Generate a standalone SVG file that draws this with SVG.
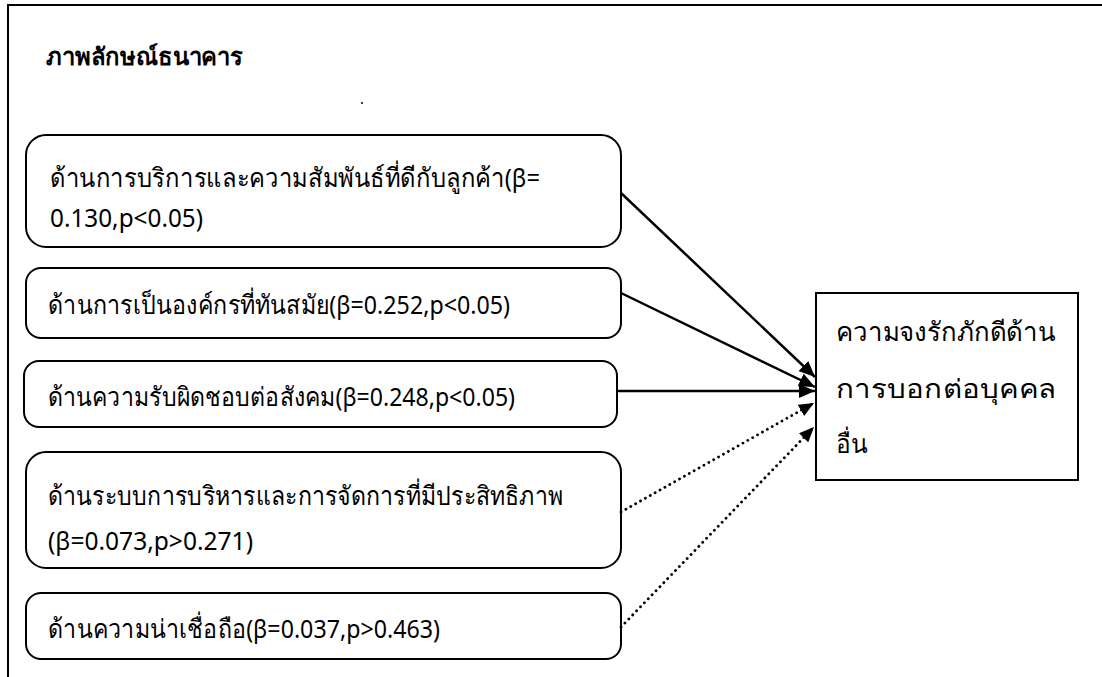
<svg xmlns="http://www.w3.org/2000/svg" width="1102" height="677" viewBox="0 0 1102 677">
  <style>
    .frame { fill: none; stroke: #000; stroke-width: 2; }
    .box { fill: #fff; stroke: #000; stroke-width: 2; }
    .txt { font-family: "Noto Sans", "DejaVu Sans", sans-serif; font-size: 26px; fill: #000; }
    .title { font-weight: bold; font-size: 24px; }
    .solid { fill: none; stroke: #000; stroke-width: 2.5; }
    .dotted { fill: none; stroke: #000; stroke-width: 2.8; stroke-dasharray: 0.1 5.5; stroke-linecap: round; }
  </style>
  <defs>
    <marker id="arrow" viewBox="0 0 16 14" refX="16" refY="7" markerWidth="16" markerHeight="14" markerUnits="userSpaceOnUse" orient="auto">
      <path d="M0,0 L16,7 L0,14 Z" fill="#000"/>
    </marker>
    <marker id="arrowDot" viewBox="0 0 15 13" refX="15" refY="6.5" markerWidth="15" markerHeight="13" markerUnits="userSpaceOnUse" orient="auto">
      <path d="M0,0 L15,6.5 L0,13 Z" fill="#000"/>
    </marker>
  </defs>

  <!-- outer frame: top and left rules only -->
  <path class="frame" d="M8,677 L8,5 L1102,5"/>

  <text class="txt title" x="46" y="65" textLength="197" lengthAdjust="spacingAndGlyphs">ภาพลักษณ์ธนาคาร</text>
  <circle cx="362" cy="103" r="1" fill="#000"/>

  <g id="node-service">
    <rect class="box" x="26" y="135" width="595" height="112" rx="20"/>
    <text class="txt" x="50" y="187" textLength="490" lengthAdjust="spacingAndGlyphs">ด้านการบริการและความสัมพันธ์ที่ดีกับลูกค้า(β=</text>
    <text class="txt" x="50" y="227" textLength="153" lengthAdjust="spacingAndGlyphs">0.130,p&lt;0.05)</text>
  </g>

  <g id="node-modern">
    <rect class="box" x="26" y="268" width="595" height="70" rx="15"/>
    <text class="txt" x="48" y="314" textLength="462" lengthAdjust="spacingAndGlyphs">ด้านการเป็นองค์กรที่ทันสมัย(β=0.252,p&lt;0.05)</text>
  </g>

  <g id="node-social">
    <rect class="box" x="24" y="361" width="593" height="66" rx="15"/>
    <text class="txt" x="48" y="406" textLength="467" lengthAdjust="spacingAndGlyphs">ด้านความรับผิดชอบต่อสังคม(β=0.248,p&lt;0.05)</text>
  </g>

  <g id="node-management">
    <rect class="box" x="26" y="452" width="595" height="116" rx="20"/>
    <text class="txt" x="48" y="505" textLength="515" lengthAdjust="spacingAndGlyphs">ด้านระบบการบริหารและการจัดการที่มีประสิทธิภาพ</text>
    <text class="txt" x="48" y="550" textLength="205" lengthAdjust="spacingAndGlyphs">(β=0.073,p&gt;0.271)</text>
  </g>

  <g id="node-trust">
    <rect class="box" x="26" y="593" width="595" height="66" rx="15"/>
    <text class="txt" x="48" y="638" textLength="392" lengthAdjust="spacingAndGlyphs">ด้านความน่าเชื่อถือ(β=0.037,p&gt;0.463)</text>
  </g>

  <g id="node-loyalty">
    <rect class="box" x="816" y="293" width="262" height="187"/>
    <text class="txt" x="836" y="341" textLength="220" lengthAdjust="spacingAndGlyphs">ความจงรักภักดีด้าน</text>
    <text class="txt" x="836" y="398" textLength="220" lengthAdjust="spacingAndGlyphs">การบอกต่อบุคคล</text>
    <text class="txt" x="836" y="453" textLength="32" lengthAdjust="spacingAndGlyphs">อื่น</text>
  </g>

  <g id="connectors">
    <line class="solid" x1="621" y1="193" x2="815" y2="377" marker-end="url(#arrow)"/>
    <line class="solid" x1="621" y1="293" x2="815" y2="387" marker-end="url(#arrow)"/>
    <line class="solid" x1="617" y1="391" x2="815" y2="391" marker-end="url(#arrow)"/>
    <line class="dotted" x1="621" y1="512" x2="814" y2="403" marker-end="url(#arrowDot)"/>
    <line class="dotted" x1="621" y1="627" x2="814" y2="427" marker-end="url(#arrowDot)"/>
  </g>
</svg>
